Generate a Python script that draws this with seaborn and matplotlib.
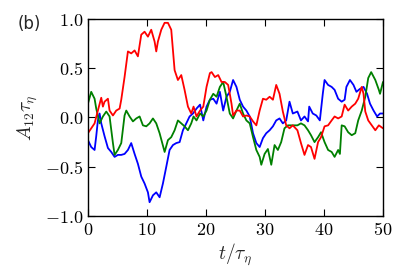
import pandas as pd
import seaborn as sns
import matplotlib
matplotlib.use("Agg")
import matplotlib.pyplot as plt

# series (t, value)
t_blue = [0, 0.56, 1.13, 1.41, 1.69, 1.98, 2.26, 2.82, 3.39, 3.95, 4.52, 5.08, 5.65, 6.21, 6.78,
          7.34, 7.91, 8.47, 9.04, 9.60, 10.17, 10.45, 11.02, 11.58, 12.15, 12.71, 13.28, 13.84,
          14.41, 14.97, 15.54, 16.10, 16.67, 17.23, 17.80, 18.4, 19.0, 19.55, 20.1, 20.67, 21.24,
          21.8, 22.36, 22.92, 23.48, 24.04, 24.6, 25.17, 25.73, 26.29, 26.85, 27.42, 27.98, 28.54,
          29.1, 29.66, 30.22, 30.79, 31.35, 31.91, 32.47, 33.03, 33.6, 34.16, 34.72, 35.5, 36.1,
          36.7, 37.3, 37.5, 38.1, 38.7, 39.3, 39.8, 40.1, 40.7, 41.3, 41.8, 42.4, 43.0, 43.5, 43.8,
          44.4, 45.0, 45.5, 46.1, 46.7, 47.3, 47.8, 48.4, 49.0, 49.5, 50.0]
v_blue = [-0.23, -0.30, -0.33, -0.19, -0.03, 0.04, -0.06, -0.19, -0.31, -0.35, -0.40, -0.38, -0.38,
          -0.37, -0.33, -0.26, -0.37, -0.47, -0.60, -0.67, -0.76, -0.86, -0.79, -0.76, -0.81, -0.67,
          -0.50, -0.33, -0.28, -0.26, -0.25, -0.13, -0.06, 0.01, 0.04, 0.09, 0.13, -0.03, 0.11, 0.18,
          0.19, 0.14, 0.26, 0.07, 0.21, 0.26, 0.38, 0.31, 0.18, 0.11, 0.07, 0.01, -0.16, -0.26,
          -0.30, -0.21, -0.16, -0.13, -0.09, -0.03, -0.01, -0.06, -0.03, 0.16, 0.04, 0.06, -0.03,
          0.01, -0.04, 0.11, 0.04, 0.02, -0.03, 0.24, 0.38, 0.33, 0.31, 0.28, 0.19, 0.16, 0.18, 0.31,
          0.38, 0.33, 0.26, 0.29, 0.31, 0.24, 0.14, 0.07, 0.01, 0.04, 0.04]

t_green = [0, 0.56, 1.13, 1.41, 1.98, 2.54, 3.11, 3.67, 4.24, 4.52, 5.08, 5.65, 6.21, 6.50, 7.06,
           7.63, 8.19, 8.76, 9.32, 9.89, 10.45, 11.02, 11.58, 12.15, 13.0, 13.56, 14.12, 14.69,
           15.25, 15.82, 16.38, 16.95, 17.51, 17.9, 18.4, 19.0, 19.55, 20.1, 20.67, 21.24, 21.8,
           22.36, 22.92, 23.48, 24.04, 24.6, 25.17, 25.73, 26.29, 26.85, 27.42, 27.98, 28.54, 29.1,
           29.38, 29.94, 30.5, 31.07, 31.63, 32.19, 32.75, 33.31, 33.88, 34.72, 35.5, 36.1, 36.7,
           37.3, 37.8, 38.4, 39.0, 39.5, 40.1, 40.7, 41.3, 41.8, 42.4, 42.7, 43.0, 43.5, 44.1, 44.7,
           45.3, 45.8, 46.4, 47.0, 47.5, 48.0, 48.7, 49.3, 49.5, 50.0]
v_green = [0.14, 0.26, 0.19, 0.09, -0.06, 0.01, 0.06, 0.01, -0.26, -0.38, -0.33, -0.26, 0.02, 0.07,
           0.01, -0.04, -0.01, 0.01, -0.08, -0.09, -0.06, -0.01, -0.06, -0.16, -0.35, -0.23, -0.20,
           -0.13, -0.03, -0.06, -0.09, -0.13, -0.06, 0.01, -0.03, 0.04, 0.01, 0.07, 0.18, 0.24, 0.21,
           0.31, 0.36, 0.21, 0.04, -0.01, 0.07, 0.14, 0.04, -0.03, -0.06, -0.20, -0.33, -0.40, -0.48,
           -0.37, -0.32, -0.48, -0.28, -0.33, -0.25, -0.11, -0.08, -0.08, -0.08, -0.06, -0.08, -0.13,
           -0.18, -0.25, -0.20, -0.15, -0.25, -0.33, -0.35, -0.40, -0.33, -0.37, -0.08, -0.09, -0.15,
           -0.18, -0.16, -0.03, 0.07, 0.21, 0.40, 0.46, 0.38, 0.28, 0.24, 0.36]

t_red = [0, 1.13, 1.69, 2.26, 2.54, 2.82, 3.39, 3.67, 4.24, 4.80, 5.37, 5.65, 6.21, 6.78, 7.34,
         7.91, 8.47, 9.04, 9.60, 10.17, 10.73, 11.30, 11.58, 11.86, 12.43, 12.99, 13.56, 14.12,
         14.69, 15.25, 15.82, 16.38, 16.95, 17.51, 17.9, 18.4, 19.0, 19.55, 20.1, 20.67, 20.96,
         21.52, 22.08, 22.64, 23.2, 23.76, 24.04, 24.33, 24.6, 25.17, 25.73, 26.29, 26.85, 27.42,
         27.98, 28.54, 29.1, 29.66, 30.22, 30.79, 31.35, 31.91, 32.47, 33.03, 33.6, 34.16, 34.72,
         35.5, 36.1, 36.7, 37.3, 37.8, 38.4, 39.0, 39.5, 40.1, 40.7, 41.3, 41.8, 42.4, 43.0, 43.5,
         44.1, 44.7, 45.3, 45.8, 46.4, 46.7, 47.0, 47.5, 48.1, 48.7, 49.3, 50.0]
v_red = [-0.16, -0.06, 0.07, 0.20, 0.11, 0.16, 0.19, 0.07, 0.02, 0.07, 0.09, 0.18, 0.41, 0.67,
         0.65, 0.68, 0.62, 0.84, 0.87, 0.82, 0.89, 0.77, 0.67, 0.77, 0.89, 0.96, 0.96, 0.89, 0.48,
         0.38, 0.43, 0.28, 0.11, 0.04, 0.11, 0.01, 0.07, 0.11, 0.31, 0.45, 0.46, 0.41, 0.43, 0.36,
         0.36, 0.33, 0.24, 0.14, 0.02, 0.07, 0.07, 0.01, 0.02, 0.01, -0.04, -0.08, 0.07, 0.19, 0.18,
         0.21, 0.18, 0.33, 0.24, 0.06, -0.08, -0.11, -0.08, -0.13, -0.26, -0.38, -0.28, -0.30, -0.42,
         -0.25, -0.20, -0.09, -0.08, -0.03, 0.01, -0.01, 0.01, 0.13, 0.07, 0.11, 0.14, 0.19, 0.31,
         0.24, 0.06, -0.03, -0.08, -0.13, -0.08, -0.11]

x_ticks = [0, 10, 20, 30, 40, 50]
y_ticks = [-1.0, -0.5, 0.0, 0.5, 1.0]

df = pd.concat([
    pd.DataFrame({"t": t_blue, "A": v_blue, "run": "blue"}),
    pd.DataFrame({"t": t_green, "A": v_green, "run": "green"}),
    pd.DataFrame({"t": t_red, "A": v_red, "run": "red"}),
])

sns.set_style("ticks")
plt.rcParams["mathtext.fontset"] = "cm"
plt.rcParams["xtick.direction"] = "in"
plt.rcParams["ytick.direction"] = "in"

fig = plt.figure(figsize=(4.07, 2.78), dpi=100)
ax = fig.add_axes([0.216, 0.223, 0.725, 0.709])

sns.lineplot(data=df, x="t", y="A", hue="run", sort=False, estimator=None,
             palette={"blue": "#0000ff", "green": "#008000", "red": "#ff0000"},
             linewidth=1.3, legend=False, ax=ax)

ax.set_xlim(0, 50)
ax.set_ylim(-1, 1)
ax.set_xticks(x_ticks)
ax.set_xticklabels([f"${v}$" for v in x_ticks], fontsize=13)
ax.set_yticks(y_ticks)
ax.set_yticklabels([f"${v:.1f}$" for v in y_ticks], fontsize=13)
ax.tick_params(top=True, right=True, length=5, width=0.8, colors="black")
for s in ax.spines.values():
    s.set_linewidth(1.0)
    s.set_color("black")

ax.set_xlabel(r"$t/\tau_\eta$", fontsize=14, labelpad=2)
ax.set_ylabel(r"$A_{12}\tau_\eta$", fontsize=14, labelpad=3)
fig.text(0.044, 0.895, "(b)", fontsize=12, family="DejaVu Sans")

fig.savefig("out.png", dpi=100)
